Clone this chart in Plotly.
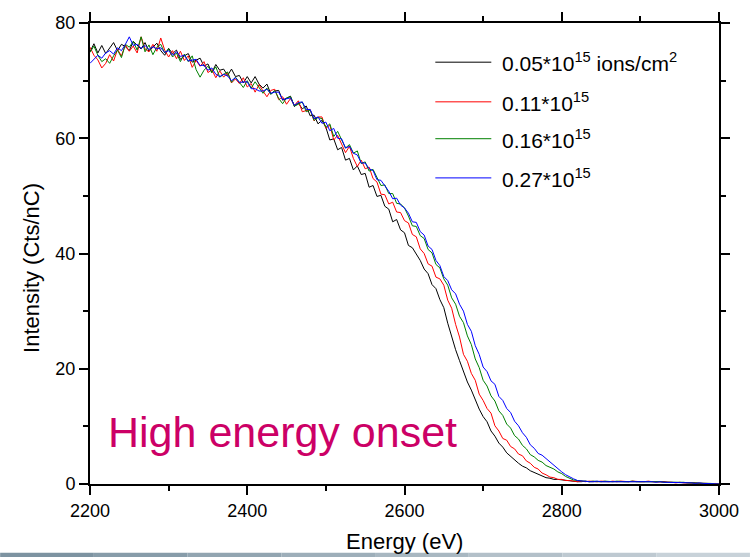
import plotly.graph_objects as go

# Energy grid of the spectra (eV), 5 eV channels
energy = list(range(2200, 3001, 5))

# Backscattered intensity (Cts/nC) for each ion fluence
dose_005 = [
    75.0, 76.4, 74.8, 76.1, 74.7, 75.7, 76.6, 75.2, 76.3, 75.9,
    75.2, 76.8, 76.2, 75.5, 76.6, 75.1, 75.8, 76.5, 75.2, 74.4,
    75.6, 74.7, 75.3, 73.7, 74.3, 74.7, 73.2, 73.6, 73.9, 72.5,
    72.9, 71.4, 72.8, 71.8, 72.0, 70.9, 72.0, 70.7, 70.9, 69.6,
    70.7, 69.6, 70.7, 69.4, 68.7, 69.4, 67.7, 68.2, 68.3, 66.6,
    66.9, 67.3, 65.5, 66.1, 65.1, 65.6, 63.9, 64.0, 62.5, 63.1,
    61.9, 59.7, 59.9, 58.0, 58.4, 56.2, 56.5, 54.5, 55.2, 53.7,
    53.9, 51.5, 51.8, 49.9, 50.1, 48.2, 47.7, 45.5, 45.9, 44.1,
    43.6, 41.4, 41.0, 39.9, 38.8, 37.3, 36.5, 34.6, 33.9, 32.0,
    30.6, 27.9, 25.4, 23.3, 21.4, 19.4, 17.7, 16.3, 14.6, 13.0,
    11.7, 10.8, 9.2, 8.3, 7.1, 6.4, 5.4, 4.8, 4.1, 3.6,
    3.1, 2.8, 2.3, 2.0, 1.6, 1.4, 1.1, 1.0, 0.8, 0.8,
    0.7, 0.6, 0.5, 0.5, 0.4, 0.4, 0.5, 0.4, 0.4, 0.5,
    0.4, 0.4, 0.5, 0.4, 0.4, 0.4, 0.5, 0.4, 0.4, 0.4,
    0.4, 0.5, 0.4, 0.4, 0.4, 0.4, 0.4, 0.3, 0.3, 0.3,
    0.3, 0.2, 0.2, 0.2, 0.2, 0.1, 0.1, 0.1, 0.1, 0.0,
    0.0,
]

dose_011 = [
    75.8, 74.4, 73.6, 72.2, 73.0, 74.5, 73.4, 75.4, 74.3, 76.2,
    75.1, 76.0, 74.8, 77.6, 75.5, 75.0, 76.3, 75.1, 77.4, 75.3,
    74.1, 75.2, 73.8, 75.1, 73.5, 74.3, 72.3, 73.5, 72.5, 73.3,
    71.4, 71.9, 70.5, 71.7, 70.6, 71.4, 69.6, 70.3, 69.5, 70.5,
    68.9, 69.5, 68.0, 69.3, 68.2, 67.2, 68.3, 68.5, 66.7, 67.2,
    65.9, 66.9, 65.7, 66.5, 64.6, 64.8, 65.0, 63.0, 63.7, 63.7,
    61.7, 62.3, 59.7, 60.5, 59.1, 57.5, 58.6, 56.5, 55.1, 56.2,
    54.7, 55.0, 53.0, 52.4, 50.3, 50.2, 48.6, 48.9, 47.2, 47.1,
    45.7, 45.3, 43.3, 42.9, 40.8, 40.0, 38.2, 37.8, 35.9, 35.6,
    34.5, 31.9, 30.5, 27.7, 25.5, 22.5, 21.3, 19.2, 18.0, 15.6,
    14.5, 13.1, 12.3, 10.1, 9.2, 7.9, 7.6, 6.5, 6.1, 5.2,
    4.9, 4.0, 3.6, 2.9, 2.6, 1.9, 1.6, 1.2, 1.1, 0.8,
    0.8, 0.6, 0.6, 0.5, 0.4, 0.5, 0.4, 0.5, 0.4, 0.4,
    0.5, 0.4, 0.4, 0.5, 0.4, 0.5, 0.4, 0.4, 0.5, 0.4,
    0.4, 0.4, 0.5, 0.4, 0.4, 0.3, 0.4, 0.3, 0.3, 0.2,
    0.3, 0.2, 0.2, 0.2, 0.1, 0.2, 0.1, 0.1, 0.0, 0.1,
    0.0,
]

dose_016 = [
    74.9, 76.0, 74.4, 73.3, 73.8, 73.0, 74.3, 75.3, 74.0, 76.3,
    75.8, 76.8, 75.3, 77.6, 75.0, 76.2, 74.5, 75.8, 76.3, 74.8,
    75.5, 74.1, 74.8, 73.3, 74.6, 73.3, 74.3, 71.9, 70.6, 71.8,
    72.5, 71.4, 72.4, 70.6, 71.1, 71.5, 69.7, 70.6, 69.7, 68.8,
    70.0, 68.7, 69.8, 68.8, 67.8, 68.7, 67.6, 68.3, 66.9, 66.0,
    67.0, 67.2, 65.6, 65.9, 66.3, 64.6, 64.9, 63.1, 63.6, 63.4,
    61.9, 62.5, 60.3, 61.2, 59.7, 58.3, 58.9, 57.4, 57.8, 55.6,
    55.9, 54.3, 54.6, 53.1, 51.8, 51.9, 50.4, 50.4, 48.7, 48.6,
    47.9, 46.5, 44.8, 44.7, 43.1, 42.6, 40.7, 40.1, 38.1, 37.5,
    35.6, 34.5, 32.3, 31.2, 29.1, 28.0, 25.7, 24.2, 21.7, 20.2,
    18.0, 17.0, 15.3, 14.4, 12.7, 11.9, 10.4, 9.7, 8.4, 7.8,
    6.7, 6.1, 5.1, 4.7, 4.1, 3.8, 3.2, 2.9, 2.6, 2.1,
    1.8, 1.3, 1.0, 0.7, 0.6, 0.5, 0.5, 0.4, 0.5, 0.4,
    0.4, 0.5, 0.4, 0.4, 0.5, 0.4, 0.4, 0.4, 0.5, 0.4,
    0.4, 0.4, 0.4, 0.5, 0.4, 0.4, 0.3, 0.3, 0.4, 0.3,
    0.3, 0.3, 0.2, 0.2, 0.2, 0.1, 0.2, 0.1, 0.1, 0.0,
    0.0,
]

dose_027 = [
    73.0, 73.7, 74.4, 73.9, 74.8, 75.2, 74.6, 75.7, 75.2, 76.3,
    77.6, 76.1, 76.3, 75.6, 76.1, 75.4, 75.9, 75.5, 75.7, 74.9,
    75.2, 74.4, 75.0, 74.2, 74.4, 73.4, 73.6, 73.7, 72.6, 72.7,
    71.8, 72.2, 71.1, 70.7, 71.1, 70.8, 70.0, 70.5, 69.7, 69.8,
    69.8, 68.6, 68.6, 68.2, 68.2, 68.5, 67.8, 68.0, 68.0, 66.7,
    66.9, 67.0, 65.7, 66.2, 66.3, 65.0, 65.0, 63.4, 63.7, 62.6,
    62.8, 61.3, 61.7, 60.0, 59.9, 58.3, 58.6, 57.4, 57.1, 55.7,
    55.7, 54.7, 54.4, 52.8, 52.7, 51.7, 50.8, 49.5, 49.6, 48.4,
    47.9, 47.0, 45.5, 45.4, 43.8, 43.2, 41.3, 40.7, 38.8, 37.9,
    36.0, 35.3, 33.7, 33.0, 31.2, 30.0, 27.7, 26.5, 24.0, 22.5,
    20.3, 19.5, 17.9, 17.3, 15.2, 14.5, 13.1, 12.4, 10.9, 10.1,
    8.9, 8.1, 6.8, 6.2, 5.3, 5.0, 4.4, 3.9, 3.3, 2.7,
    2.1, 1.6, 1.2, 0.9, 0.6, 0.5, 0.5, 0.4, 0.4, 0.5,
    0.4, 0.4, 0.4, 0.5, 0.4, 0.4, 0.4, 0.5, 0.4, 0.4,
    0.4, 0.4, 0.4, 0.4, 0.3, 0.4, 0.3, 0.3, 0.3, 0.3,
    0.2, 0.3, 0.2, 0.2, 0.1, 0.2, 0.1, 0.1, 0.1, 0.0,
    0.0,
]

series_labels = [
    "0.05*10<sup>15</sup> ions/cm<sup>2</sup>",
    "0.11*10<sup>15</sup>",
    "0.16*10<sup>15</sup>",
    "0.27*10<sup>15</sup>",
]
series_values = [dose_005, dose_011, dose_016, dose_027]
series_colors = ["#000000", "#ff0000", "#008000", "#0000ff"]

FONT = "Liberation Sans, Arial, sans-serif"

fig = go.Figure()
for label, values, color in zip(series_labels, series_values, series_colors):
    fig.add_trace(go.Scatter(
        x=energy, y=values, mode="lines", name=label,
        line=dict(color=color, width=1), showlegend=False,
    ))

# Hand-placed legend: short line sample followed by the label
legend_rows = [0.915, 0.829, 0.749, 0.664]
shapes = []
annotations = []
for label, color, yrow in zip(series_labels, series_colors, legend_rows):
    shapes.append(dict(type="line", xref="paper", yref="paper",
                       x0=0.549, x1=0.638, y0=yrow, y1=yrow,
                       line=dict(color=color, width=1)))
    annotations.append(dict(xref="paper", yref="paper", x=0.652, y=yrow,
                            xanchor="left", yanchor="middle", showarrow=False,
                            text=label, font=dict(family=FONT, size=21, color="#000")))

annotations.append(dict(xref="paper", yref="paper", x=0.026, y=0.113,
                        xanchor="left", yanchor="middle", showarrow=False,
                        text="High energy onset",
                        font=dict(family=FONT, size=43, color="#cc0066")))

# Axis titles
annotations.append(dict(xref="paper", yref="paper", x=0.5, y=-0.124,
                        xanchor="center", yanchor="middle", showarrow=False,
                        text="Energy (eV)",
                        font=dict(family=FONT, size=22, color="#000")))
annotations.append(dict(xref="paper", yref="paper", x=-0.092, y=0.469,
                        xanchor="center", yanchor="middle", showarrow=False,
                        textangle=-90, text="Intensity (Cts/nC)",
                        font=dict(family=FONT, size=22, color="#000")))

# Thin shaded strip along the bottom edge
strip_colors = ["#7d93a1", "#879ca9", "#92a5b1", "#9daeb9", "#a8b7c1",
                "#b3c0c9", "#bec9d1", "#c8d2d9"]
n_strip = len(strip_colors)
for k, c in enumerate(strip_colors):
    shapes.append(dict(type="rect", xref="paper", yref="paper",
                       x0=-90 / 630 + k * (751 / 630) / n_strip,
                       x1=-90 / 630 + (k + 1) * (751 / 630) / n_strip,
                       y0=-0.16, y1=-0.149, line=dict(width=0), fillcolor=c,
                       layer="below"))

axis_common = dict(
    showline=True, linecolor="#000", linewidth=2, mirror="allticks",
    ticks="outside", ticklen=9, tickwidth=1.5, tickcolor="#000",
    showgrid=False, zeroline=False,
    tickfont=dict(family=FONT, size=18, color="#000"),
)

fig.update_xaxes(range=[2200, 3000], tickvals=[2200, 2400, 2600, 2800, 3000],
                 minor=dict(dtick=100, tick0=2200, ticks="outside", ticklen=5,
                            tickwidth=1.5, tickcolor="#000", showgrid=False),
                 **axis_common)
fig.update_yaxes(range=[0, 80], tickvals=[0, 20, 40, 60, 80],
                 minor=dict(dtick=10, tick0=0, ticks="outside", ticklen=5,
                            tickwidth=1.5, tickcolor="#000", showgrid=False),
                 **axis_common)

fig.update_layout(
    width=751, height=557,
    margin=dict(l=90, r=31, t=17, b=73),
    paper_bgcolor="white", plot_bgcolor="white",
    shapes=shapes, annotations=annotations,
    font=dict(family=FONT, color="#000"),
)

fig.write_html("out.html")
